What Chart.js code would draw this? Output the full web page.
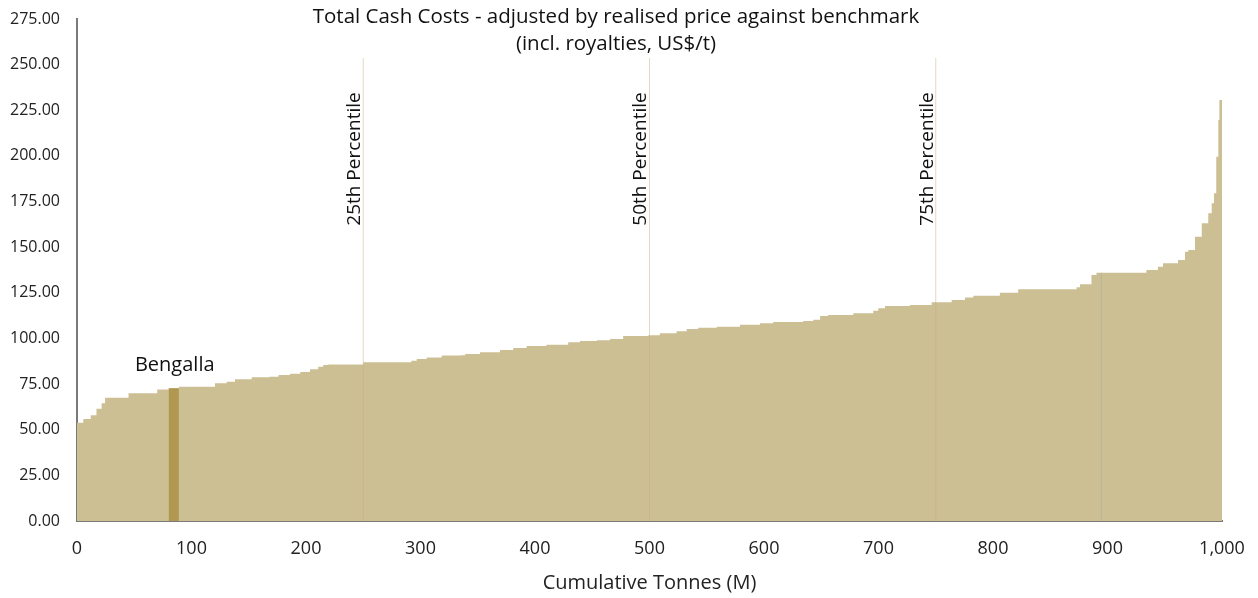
<!DOCTYPE html>
<html>
<head>
<meta charset="utf-8">
<script src="https://cdn.jsdelivr.net/npm/chart.js@4/dist/chart.umd.min.js"></script>
<style>
  html, body { margin: 0; padding: 0; background: #ffffff; }
  #wrap { width: 1258px; height: 598px; }
</style>
</head>
<body>
<div id="wrap"><canvas id="c" width="1258" height="598"></canvas></div>
<script>
// ---- Data ----
const titleLines = ["Total Cash Costs - adjusted by realised price against benchmark", "(incl. royalties, US$/t)"];
const xAxisTitle = "Cumulative Tonnes (M)";

// cost-curve steps: cumulative tonnes (M) where each step starts, and its cash cost (US$/t)
const stepStartTonnes = [0,5.5,12,17,21.5,24.5,45,70,80,89,120.5,130.7,138,152.6,168,176,186,195,203.5,210.7,215,219.5,250,292,296.7,305.4,318.5,335,339,352,369.4,381,392.7,410,429,439.3,454,465.5,477,499,509,523.7,532.5,542.6,558.7,579,596.5,608,634.3,643,649,656,678,695.4,699.8,705.7,727.5,746.4,763.9,775.5,782.8,806,822,873,876,886,890.4,934,944,948.5,961.6,967.7,970.6,976.4,982.3,988,991,993,995,996.8,997.7];
const stepCosts = [53.8,55.9,57.9,61.5,64.5,67.5,70,72.1,72.7,73.6,75.4,76.3,77.6,78.7,79.0,80.0,80.7,81.6,83.1,84.5,85.5,85.8,86.9,87.8,88.7,89.5,90.6,90.8,91.5,92.4,93.7,94.8,95.9,96.6,97.9,98.6,99.0,99.7,101.3,101.7,102.8,103.9,105.2,105.9,106.4,107.5,108.3,109.0,109.6,110.3,112.3,112.9,113.8,115.2,116.5,117.8,118.3,119.8,121.1,122.5,123.4,125.1,126.9,128.0,129.7,134.8,136.0,137.5,139.3,141.2,143.0,147.5,148.5,155.7,163.1,168.6,174.0,179.5,199.6,219.7,230.6];
const totalTonnes = 1000;

// highlighted mine
const highlightName = "Bengalla";
const highlightStart = 80;
const highlightEnd = 89;
const highlightCost = 72.7;

// percentile markers
const percentileTonnes = [250, 500, 750];
const percentileLabels = ["25th Percentile", "50th Percentile", "75th Percentile"];
const percentileLineTop = 253.6;

// faint separator in the curve
const separatorTonnes = 894.6;
const separatorTop = 136.0;

// axes
const xTicks = [0,100,200,300,400,500,600,700,800,900,1000];
const yTicks = [0,25,50,75,100,125,150,175,200,225,250,275];

// ---- Build datasets ----
const n = Math.min(stepStartTonnes.length, stepCosts.length);
const curvePoints = [];
for (let i = 0; i < n; i++) curvePoints.push({x: stepStartTonnes[i], y: stepCosts[i]});
curvePoints.push({x: totalTonnes, y: stepCosts[n - 1]});

const FONT = "'Open Sans', 'Lato', sans-serif";
const AREA = "rgb(205,191,148)";
const HIGHLIGHT = "rgb(176,152,80)";

const datasets = [];
percentileTonnes.forEach((t) => {
  datasets.push({
    type: 'line', data: [{x: t, y: 0}, {x: t, y: percentileLineTop}],
    borderColor: 'rgba(195,170,120,0.45)', borderWidth: 1, pointRadius: 0, fill: false, order: 0
  });
});
datasets.push({
  type: 'line', data: [{x: separatorTonnes, y: 0}, {x: separatorTonnes, y: separatorTop}],
  borderColor: 'rgba(170,170,165,0.6)', borderWidth: 1, pointRadius: 0, fill: false, order: 0
});
datasets.push({
  type: 'line', label: highlightName,
  data: [{x: highlightStart, y: highlightCost}, {x: highlightEnd, y: highlightCost}],
  stepped: true, borderWidth: 0, borderColor: HIGHLIGHT, backgroundColor: HIGHLIGHT,
  pointRadius: 0, fill: 'origin', order: 1
});
datasets.push({
  type: 'line', label: 'Cost curve', data: curvePoints,
  stepped: true, borderWidth: 0, borderColor: AREA, backgroundColor: AREA,
  pointRadius: 0, fill: 'origin', order: 2
});

const overlayPlugin = {
  id: 'overlay',
  afterDraw(chart) {
    const ctx = chart.ctx;
    const xs = chart.scales.x, ys = chart.scales.y;
    ctx.save();
    // title
    ctx.fillStyle = '#111';
    ctx.textAlign = 'center';
    ctx.textBaseline = 'middle';
    ctx.font = `20.5px ${FONT}`;
    ctx.fillText(titleLines[0], 616, 17);
    ctx.fillText(titleLines[1], 616, 44);
    // highlight label
    ctx.font = `20px ${FONT}`;
    ctx.textBaseline = 'alphabetic';
    ctx.fillText(highlightName, xs.getPixelForValue((highlightStart + highlightEnd) / 2) + 1, ys.getPixelForValue(highlightCost) - 17);
    // percentile labels
    ctx.font = `19px ${FONT}`;
    percentileTonnes.forEach((t, i) => {
      const px = xs.getPixelForValue(t);
      const py = ys.getPixelForValue(198.3);
      ctx.save();
      ctx.translate(px + 1, py);
      ctx.rotate(-Math.PI / 2);
      ctx.textAlign = 'center';
      ctx.textBaseline = 'bottom';
      ctx.fillText(percentileLabels[i], 0, 0);
      ctx.restore();
    });
    ctx.restore();
  }
};

new Chart(document.getElementById('c'), {
  type: 'line',
  data: { datasets },
  options: {
    responsive: false,
    animation: false,
    layout: { padding: { top: 19, right: 36, bottom: 0, left: 0 } },
    plugins: { legend: { display: false }, tooltip: { enabled: false }, title: { display: false } },
    scales: {
      x: {
        type: 'linear', min: 0, max: totalTonnes, z: 1,
        afterBuildTicks: (s) => { s.ticks = xTicks.map(v => ({value: v})); },
        afterFit: (s) => { s.height = 77; s.paddingLeft = 0; s.paddingRight = 0; },
        grid: { display: false, drawTicks: false },
        border: { display: true, color: '#7a7a7a', width: 2 },
        ticks: { padding: 17, color: '#222', font: { size: 18, family: FONT }, maxRotation: 0,
          callback: (v) => Number(v).toLocaleString('en-US') },
        title: { display: true, text: xAxisTitle, color: '#222', font: { size: 20, family: FONT }, padding: { top: 0, bottom: 3 } }
      },
      y: {
        type: 'linear', min: 0, max: 275, z: 1,
        afterBuildTicks: (s) => { s.ticks = yTicks.map(v => ({value: v})); },
        afterFit: (s) => { s.width = 77; s.paddingTop = 0; s.paddingBottom = 0; },
        grid: { display: false, drawTicks: false },
        border: { display: true, color: '#7a7a7a', width: 2 },
        ticks: { padding: 17, color: '#222', font: { size: 16, family: FONT },
          callback: (v) => Number(v).toFixed(2) }
      }
    }
  },
  plugins: [overlayPlugin]
});
</script>
</body>
</html>
